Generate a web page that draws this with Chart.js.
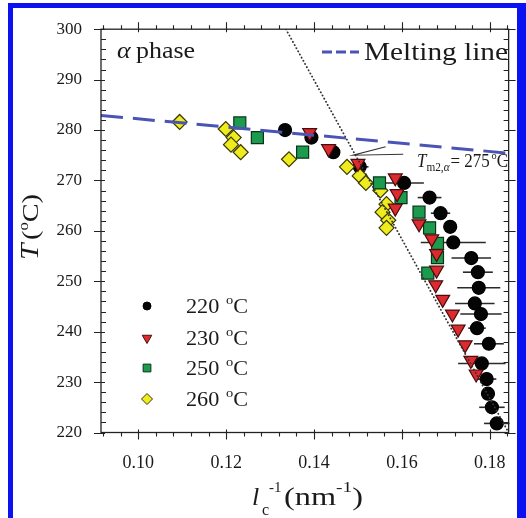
<!DOCTYPE html>
<html><head><meta charset="utf-8">
<script src="https://cdn.jsdelivr.net/npm/chart.js@4/dist/chart.umd.min.js"></script>
<style>html,body{margin:0;padding:0;background:#fff;}canvas{display:block}</style>
</head><body>
<canvas id="c" width="526" height="518"></canvas>
<script>
// ---- data ----
const seriesNames = ['220', '230', '250', '260'];
const x220 = [0.1334,0.1394,0.1444,0.1504,0.1605,0.1663,0.1688,0.1710,0.1717,0.1758,0.1773,0.1775,0.1766,0.1780,0.1771,0.1798,0.1782,0.1793,0.1796,0.1805,0.1816];
const t220 = [280.0,278.5,275.6,272.7,269.5,266.6,263.5,260.8,257.7,254.6,251.8,248.7,245.6,243.5,240.7,237.6,233.7,230.6,227.7,225.0,221.8];
const xErr220 = [0,0,0,0.0020,0.0045,0.0027,0.0022,0,0.0074,0.0045,0.0034,0.0049,0.0045,0.0047,0.0020,0.0034,0.0054,0.0022,0.0013,0.0029,0.0029];
const x230 = [0.1390,0.1433,0.1500,0.1585,0.1589,0.1585,0.1639,0.1668,0.1679,0.1679,0.1677,0.1693,0.1715,0.1728,0.1744,0.1757,0.1769];
const t230 = [279.5,276.3,273.4,270.5,267.4,264.5,261.4,258.4,255.5,252.2,249.3,246.4,243.5,240.5,237.4,234.3,231.6];
const x250 = [0.1231,0.1271,0.1374,0.1549,0.1598,0.1639,0.1663,0.1681,0.1681,0.1659];
const t250 = [281.4,278.5,275.6,269.5,266.6,263.7,260.6,257.5,254.7,251.6];
const x260 = [0.1094,0.1199,0.1217,0.1211,0.1233,0.1343,0.1475,0.1504,0.1518,0.1551,0.1565,0.1556,0.1569,0.1565];
const t260 = [281.6,280.2,278.5,277.1,275.6,274.2,272.7,270.9,269.5,268.0,265.3,263.7,262.1,260.6];
const meltX = [0.0915, 0.1843];
const meltT = [282.9, 275.4];
const guideX = [0.1336, 0.1843];
const guideT = [300, 220];
const xTickLabels = [0.10, 0.12, 0.14, 0.16, 0.18];
const yTickLabels = [220, 230, 240, 250, 260, 270, 280, 290, 300];
const arrowX = [0.1563, 0.1489, 0.1603];
const arrowT = [276.7, 275.0, 275.2];
const tmValue = '275';

const X_MIN = 0.0915, X_MAX = 0.1843, Y_MIN = 220, Y_MAX = 300;
const SERIF = '"Liberation Serif", "Times New Roman", serif';

const pts = (xs, ys) => xs.map((v, i) => ({x: v, y: ys[i]}));

const styles = {
  '220': {pointStyle: 'circle', radius: 6.5, bg: '#050505', bd: '#000', rot: 0, lr: 4},
  '230': {pointStyle: 'triangle', radius: 8, bg: '#dc2a2e', bd: '#4a0c0c', rot: 180, lr: 5.5},
  '250': {pointStyle: 'rect', radius: 8.5, bg: '#1c9a4e', bd: '#0a3418', rot: 0, lr: 5.5},
  '260': {pointStyle: 'rectRot', radius: 7.5, bg: '#eeec1e', bd: '#3a3800', rot: 0, lr: 5.5}
};
const seriesData = {'220': pts(x220, t220), '230': pts(x230, t230), '250': pts(x250, t250), '260': pts(x260, t260)};

function markerDs(name) {
  const s = styles[name];
  return {
    label: name + ' °C', data: seriesData[name], showLine: false,
    pointStyle: s.pointStyle, pointRadius: s.radius, pointRotation: s.rot,
    backgroundColor: s.bg, borderColor: s.bd, pointBorderWidth: 1.2
  };
}

// parts: [text, font, dy, extraSpace]; fitW: optional target width (horizontal stretch)
function richText(ctx, x, y, parts, align, fitW) {
  let total = 0;
  for (const p of parts) { ctx.font = p[1]; total += ctx.measureText(p[0]).width + (p[3] || 0); }
  const sx = fitW ? fitW / total : 1;
  const w = total * sx;
  let x0 = x;
  if (align === 'center') x0 = x - w / 2;
  else if (align === 'right') x0 = x - w;
  ctx.save();
  ctx.translate(x0, y);
  ctx.scale(sx, 1);
  let cx = 0;
  for (const p of parts) {
    ctx.font = p[1];
    ctx.fillText(p[0], cx, p[2] || 0);
    cx += ctx.measureText(p[0]).width + (p[3] || 0);
  }
  ctx.restore();
}

const decor = {
  id: 'decor',
  beforeDraw(chart) {
    const {ctx, width, height} = chart;
    ctx.save();
    ctx.fillStyle = '#ffffff';
    ctx.fillRect(0, 0, width, height);
    ctx.restore();
  },
  beforeDatasetsDraw(chart) {
    const {ctx, scales: {x, y}} = chart;
    ctx.save();
    ctx.strokeStyle = '#2a2a2a';
    ctx.lineWidth = 1.6;
    x220.forEach((v, i) => {
      const e = xErr220[i];
      if (!e) return;
      const py = y.getPixelForValue(t220[i]);
      ctx.beginPath();
      ctx.moveTo(x.getPixelForValue(v - e), py);
      ctx.lineTo(x.getPixelForValue(v + e), py);
      ctx.stroke();
    });
    ctx.restore();
  },
  afterDraw(chart) {
    const {ctx, chartArea: a, scales: {x, y}} = chart;
    ctx.save();
    // frame
    ctx.strokeStyle = '#222';
    ctx.lineWidth = 1.3;
    ctx.strokeRect(a.left, a.top, a.right - a.left, a.bottom - a.top);
    // ticks
    ctx.lineWidth = 1.1;
    ctx.beginPath();
    for (let v = 0.092; v <= X_MAX + 1e-9; v += 0.004) {
      const px = Math.round(x.getPixelForValue(v)) + 0.5;
      const major = Math.abs(v * 50 - Math.round(v * 50)) < 1e-6;
      const out = major ? 7 : 4, inn = major ? 3 : 0;
      ctx.moveTo(px, a.bottom - inn); ctx.lineTo(px, a.bottom + out);
      ctx.moveTo(px, a.top + inn); ctx.lineTo(px, a.top - out);
    }
    for (let v = Y_MIN; v <= Y_MAX; v += 2) {
      const py = Math.round(y.getPixelForValue(v)) + 0.5;
      const major = v % 10 === 0;
      const out = major ? 7 : 0, inn = major ? 4 : 5;
      ctx.moveTo(a.left - out, py); ctx.lineTo(a.left + inn, py);
      ctx.moveTo(a.right + out, py); ctx.lineTo(a.right - inn, py);
    }
    ctx.stroke();

    // annotation arrow
    ctx.strokeStyle = '#333';
    ctx.lineWidth = 1.1;
    ctx.beginPath();
    ctx.moveTo(x.getPixelForValue(arrowX[0]), y.getPixelForValue(arrowT[0]));
    ctx.lineTo(x.getPixelForValue(arrowX[1]), y.getPixelForValue(arrowT[1]));
    ctx.lineTo(x.getPixelForValue(arrowX[2]), y.getPixelForValue(arrowT[2]));
    ctx.stroke();

    ctx.fillStyle = '#1a1a1a';
    ctx.textBaseline = 'alphabetic';
    ctx.textAlign = 'left';
    // T_m2,alpha label
    richText(ctx, 417, 167, [
      ['T', 'italic 18px ' + SERIF, 0],
      ['m2,', '12px ' + SERIF, 4],
      ['α', 'italic 12px ' + SERIF, 4, 1],
      ['= ' + tmValue, '18px ' + SERIF, 0, 2],
      ['o', '11px ' + SERIF, -8],
      ['C', '18px ' + SERIF, 0]
    ], 'left', 91);
    // alpha phase
    richText(ctx, 117, 58, [
      ['α', 'italic 24px ' + SERIF, 0, 5],
      ['phase', '24px ' + SERIF, 0]
    ], 'left', 78);
    // melting line legend
    ctx.strokeStyle = '#4a54b4';
    ctx.lineWidth = 3;
    ctx.setLineDash([10, 4]);
    ctx.beginPath(); ctx.moveTo(322, 52); ctx.lineTo(359, 52); ctx.stroke();
    ctx.setLineDash([]);
    richText(ctx, 364, 60, [['Melting line', '25px ' + SERIF, 0]], 'left', 144);

    // series legend
    const legY = [306, 338, 368, 399];
    seriesNames.forEach((n, i) => {
      const s = styles[n];
      ctx.fillStyle = s.bg; ctx.strokeStyle = s.bd; ctx.lineWidth = 1;
      Chart.helpers.drawPoint(ctx, {pointStyle: s.pointStyle, radius: s.lr, rotation: s.rot, borderWidth: 1}, 147, legY[i]);
      ctx.fillStyle = '#1a1a1a';
      richText(ctx, 186, legY[i] + 7, [
        [n + ' ', '20px ' + SERIF, 0, 1],
        ['o', '13px ' + SERIF, -9],
        ['C', '20px ' + SERIF, 0]
      ], 'left', 62);
    });

    // axis titles
    ctx.fillStyle = '#1a1a1a';
    ctx.save();
    ctx.translate(38, 227);
    ctx.rotate(-Math.PI / 2);
    richText(ctx, 0, 0, [
      ['T', 'italic 25px ' + SERIF, 0, 3],
      ['(', '24px ' + SERIF, 0],
      ['o', '14px ' + SERIF, -10],
      ['C)', '24px ' + SERIF, 0]
    ], 'center', 66);
    ctx.restore();

    ctx.font = 'italic 26px ' + SERIF;
    ctx.fillText('l', 252, 505);
    ctx.font = '16px ' + SERIF;
    ctx.fillText('c', 262, 515);
    ctx.font = '15px ' + SERIF;
    ctx.fillText('-1', 269, 492);
    richText(ctx, 284, 505, [
      ['(nm', '25px ' + SERIF, 0],
      ['-1', '15px ' + SERIF, -13],
      [')', '25px ' + SERIF, 0]
    ], 'left', 79);

    // blue frame
    ctx.fillStyle = '#0a12f2';
    ctx.fillRect(8, 3, 5, 518);
    ctx.fillRect(8, 3, 518, 5);
    ctx.fillRect(517, 3, 9, 518);
    ctx.restore();
  }
};

new Chart(document.getElementById('c'), {
  type: 'scatter',
  data: {
    datasets: [
      {label: 'Melting line', data: pts(meltX, meltT), showLine: true, pointRadius: 0,
       borderColor: '#4a54b4', borderWidth: 3, borderDash: [22, 10]},
      {label: 'guide', data: pts(guideX, guideT), showLine: true, pointRadius: 0,
       borderColor: '#333', borderWidth: 1.8, borderDash: [0.2, 3.4], borderCapStyle: 'round'},
      markerDs('230'), markerDs('250'), markerDs('260'), markerDs('220')
    ]
  },
  options: {
    responsive: false, animation: false, events: [],
    layout: {padding: {left: 0, right: 11, top: 21.5, bottom: 0}},
    plugins: {legend: {display: false}, tooltip: {enabled: false}},
    scales: {
      x: {
        type: 'linear', min: X_MIN, max: X_MAX,
        grid: {display: false, drawTicks: false}, border: {display: false},
        afterBuildTicks: s => { s.ticks = xTickLabels.map(v => ({value: v})); },
        afterFit: s => { s.height = 85.5; },
        ticks: {padding: 20, color: '#1a1a1a', maxRotation: 0, autoSkip: false,
          font: {family: SERIF, size: 18}, callback: v => v.toFixed(2)}
      },
      y: {
        type: 'linear', min: Y_MIN, max: Y_MAX,
        grid: {display: false, drawTicks: false}, border: {display: false},
        afterBuildTicks: s => { s.ticks = yTickLabels.map(v => ({value: v})); },
        afterFit: s => { s.width = 101; },
        ticks: {padding: 19, color: '#1a1a1a', font: {family: SERIF, size: 17}, callback: v => String(v)}
      }
    }
  },
  plugins: [decor]
});
</script>
</body></html>
